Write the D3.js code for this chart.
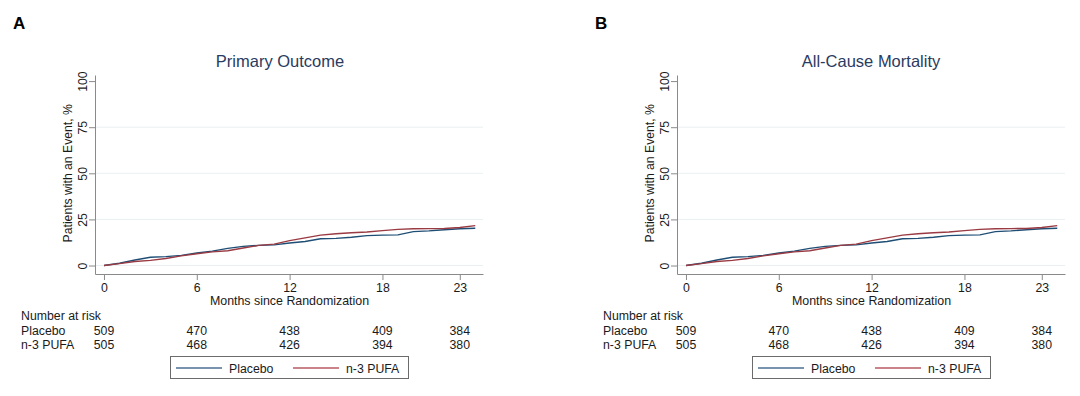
<!doctype html>
<html>
<head>
  <meta charset="utf-8">
  <title>Kaplan-Meier curves</title>
  <script src="https://cdnjs.cloudflare.com/ajax/libs/d3/7.8.5/d3.min.js"></script>
  <style>
    body { margin: 0; background: #fff; }
    svg text { font-family: 'Liberation Sans', Arial, sans-serif; fill: #1a1a1a; }
    .panel-label { font-weight: bold; font-size: 17px; fill: #000; }
    .title { font-size: 16.5px; fill: #2b3b5f; }
    .axis text { font-size: 12.3px; }
    .axis path, .axis line { stroke: #8a8a8a; }
    .risk text { font-size: 12.3px; }
    .legend text { font-size: 12.3px; }
  </style>
</head>
<body>
<div id="chart"></div>
<script>
  // ---- data ----
  var panelLabels = ["A", "B"];
  var panelTitles = ["Primary Outcome", "All-Cause Mortality"];
  var groups = ["Placebo", "n-3 PUFA"];
  var months = [0, 1, 2, 3, 4, 5, 6, 7, 8, 9, 10, 11, 12, 13, 14, 15, 16, 17, 18, 19, 20, 21, 22, 23, 24];
  var placebo = [0, 1.2, 3.0, 4.5, 4.8, 5.5, 6.8, 7.8, 9.3, 10.4, 10.9, 11.2, 12.2, 13.0, 14.5, 14.7, 15.3, 16.2, 16.5, 16.6, 18.4, 18.8, 19.4, 19.9, 20.2];
  var pufa = [0, 1.0, 2.2, 2.8, 3.8, 5.2, 6.4, 7.4, 8.0, 9.5, 10.9, 11.6, 13.5, 15.0, 16.5, 17.2, 17.8, 18.2, 18.9, 19.6, 19.9, 20.0, 20.1, 20.6, 21.6];
  var xTicks = [0, 6, 12, 18, 23];
  var yTicks = [0, 25, 50, 75, 100];
  var riskPlacebo = [509, 470, 438, 409, 384];
  var riskPufa = [505, 468, 426, 394, 380];

  // ---- layout ----
  var W = 1080, H = 396;
  var panelShift = 582;
  var titleCenters = [280, 289];
  var colors = ["#1f4e75", "#9a3a42"];
  var legendColors = ["#4b6f93", "#b85a60"];

  var svg = d3.select("#chart").append("svg").attr("width", W).attr("height", H);

  var x = d3.scaleLinear().domain([-0.58, 24.5]).range([95, 483]);
  var y = d3.scaleLinear().domain([-4.6, 103.3]).range([274, 75]);

  var series = [placebo, pufa];
  var risk = [riskPlacebo, riskPufa];

  panelLabels.forEach(function (lab, p) {
    var g = svg.append("g").attr("transform", "translate(" + (p * panelShift) + ",0)");

    g.append("text").attr("class", "panel-label").attr("x", 13).attr("y", 29).text(lab);
    g.append("text").attr("class", "title").attr("x", titleCenters[p]).attr("y", 67)
      .attr("text-anchor", "middle").text(panelTitles[p]);

    // gridlines
    g.append("g").selectAll("line").data(yTicks.slice(0, 4)).join("line")
      .attr("x1", x.range()[0] + 1).attr("x2", x.range()[1])
      .attr("y1", d => y(d)).attr("y2", d => y(d))
      .attr("stroke", "#eaf0f2").attr("stroke-width", 1);

    // y axis
    var ya = g.append("g").attr("class", "axis").attr("transform", "translate(" + x.range()[0] + ",0)")
      .call(d3.axisLeft(y).tickValues(yTicks).tickSize(6).tickSizeOuter(0));
    ya.selectAll(".tick text")
      .attr("transform", "rotate(-90)")
      .attr("x", 0).attr("y", -8).attr("dy", 0)
      .attr("text-anchor", "middle");
    g.append("text").attr("class", "axis")
      .attr("transform", "translate(72," + y(50) + ") rotate(-90)")
      .attr("text-anchor", "middle").style("font-size", "12.2px")
      .text("Patients with an Event, %");

    // x axis
    var xa = g.append("g").attr("class", "axis").attr("transform", "translate(0," + y.range()[0] + ")")
      .call(d3.axisBottom(x).tickValues(xTicks).tickSize(6).tickSizeOuter(0));
    xa.selectAll(".tick text").attr("y", 9).attr("dy", "0.71em");
    g.append("text").attr("class", "axis").attr("x", 289.5).attr("y", 305)
      .attr("text-anchor", "middle").style("font-size", "12.4px")
      .text("Months since Randomization");

    // curves (many small steps in the original, so drawn straight between monthly readings)
    var line = d3.line()
      .x((d, i) => x(months[i])).y(d => y(d));
    series.forEach(function (s, k) {
      g.append("path").datum(s).attr("d", line)
        .attr("fill", "none").attr("stroke", colors[k]).attr("stroke-width", 1.4);
    });

    // number at risk
    var rk = g.append("g").attr("class", "risk");
    rk.append("text").attr("x", 21).attr("y", 320).text("Number at risk");
    groups.forEach(function (name, k) {
      var yy = 334.5 + k * 14.5;
      rk.append("text").attr("x", 21).attr("y", yy).text(name);
      rk.selectAll(null).data(risk[k]).join("text")
        .attr("x", (d, i) => x(xTicks[i])).attr("y", yy)
        .attr("text-anchor", "middle").text(d => d);
    });

    // legend
    var lg = g.append("g").attr("class", "legend");
    lg.append("rect").attr("x", 170.5).attr("y", 356.5).attr("width", 238).attr("height", 22)
      .attr("fill", "#fff").attr("stroke", "#6b6b6b").attr("stroke-width", 1);
    var lx = [176, 293];
    groups.forEach(function (name, k) {
      lg.append("line").attr("x1", lx[k]).attr("x2", lx[k] + 46).attr("y1", 368).attr("y2", 368)
        .attr("stroke", legendColors[k]).attr("stroke-width", 1.3);
      lg.append("text").attr("x", lx[k] + 53).attr("y", 372.5).text(name);
    });
  });
</script>
</body>
</html>
